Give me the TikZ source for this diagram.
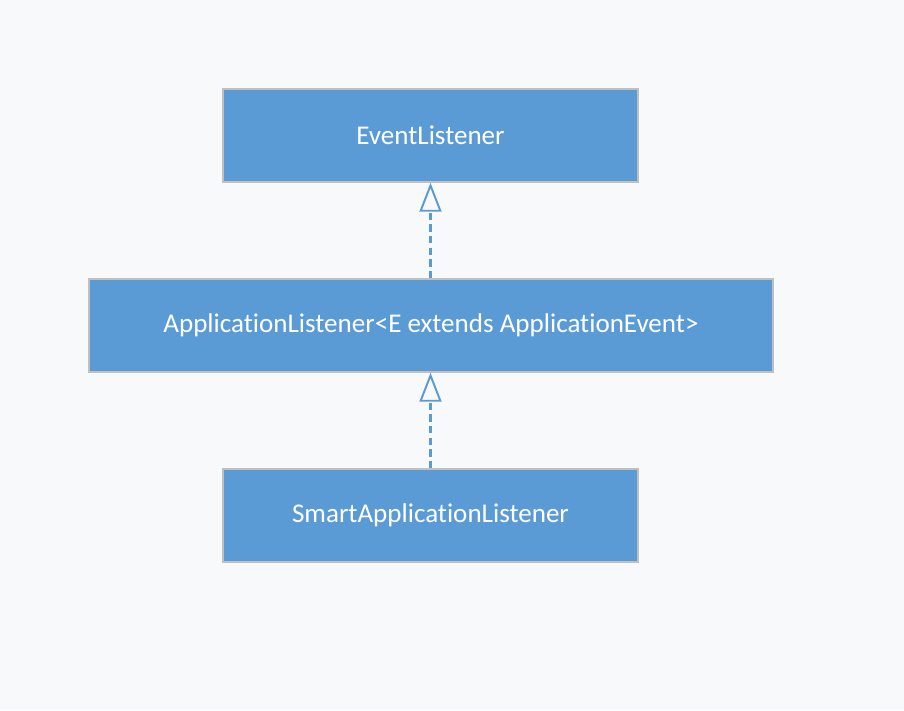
\documentclass[tikz,border=0pt]{standalone}
\usepackage{fontspec}
\setmainfont{Carlito}[Ligatures=CommonOff]
\usetikzlibrary{arrows.meta}
\usetikzlibrary{positioning}

\definecolor{boxblue}{RGB}{91,155,213}
\definecolor{boxline}{RGB}{192,192,192}
\definecolor{bgpaper}{RGB}{248,249,250}

\tikzset{
	classbox/.style={draw=boxline, line width=0.85pt, fill=boxblue, text=white,
		minimum height=1.86cm, inner sep=0pt, font=\fontsize{15.4}{17}\selectfont},
	realizes/.style={draw=boxblue, line width=1.3pt, dash pattern=on 4.2pt off 2.4pt,
		-{Triangle[open, length=0.58cm, width=0.44cm, line width=1.1pt]}}
}

\begin{document}
\begin{tikzpicture}
		\fill[bgpaper] (0,0) rectangle (18.08,14.2);
		\useasboundingbox (0,0) rectangle (18.08,14.2);
		
		\node[classbox, minimum width=8.3cm] (listener) at (8.61, 11.49) {EventListener};
		\node[classbox, minimum width=13.68cm] (applistener) at (8.62, 7.69) {ApplicationListener<E extends ApplicationEvent>};
		\node[classbox, minimum width=8.3cm] (smartlistener) at (8.61, 3.89) {SmartApplicationListener};
		
		\draw[realizes] (applistener.north -| listener.south) -- (listener.south);
		\draw[realizes] (smartlistener.north) -- (applistener.south -| smartlistener.north);
	\end{tikzpicture}
\end{document}
